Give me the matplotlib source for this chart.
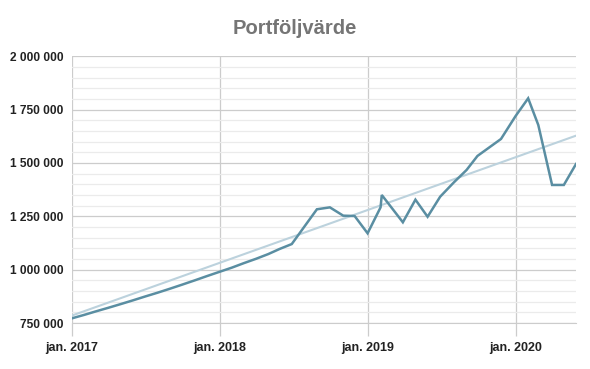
import matplotlib.pyplot as plt
import matplotlib.dates as mdates
import matplotlib.ticker as mticker
import numpy as np
import pandas as pd

plt.rcParams['font.family'] = ['Liberation Sans', 'DejaVu Sans']

# portföljens värde
dates = pd.to_datetime([
    '2017-01-01', '2017-01-31', '2017-02-28', '2017-03-31', '2017-04-30', '2017-05-31',
    '2017-06-30', '2017-07-31', '2017-08-31', '2017-09-30', '2017-10-31', '2017-11-30',
    '2017-12-31', '2018-01-31', '2018-02-28', '2018-03-31', '2018-04-30', '2018-05-28',
    '2018-06-27', '2018-08-28', '2018-09-29', '2018-11-01', '2018-11-29', '2018-12-31',
    '2019-02-01', '2019-02-04', '2019-03-28', '2019-04-28', '2019-05-28', '2019-06-28',
    '2019-08-01', '2019-09-01', '2019-09-28', '2019-11-25', '2019-12-31', '2020-01-31',
    '2020-02-25', '2020-03-30', '2020-04-28', '2020-05-28'])
values = [
    772000, 788000, 804000, 821000, 838000, 856000,
    874000, 892000, 911000, 930000, 950000, 970000,
    990000, 1010000, 1030000, 1051000, 1073000, 1097000,
    1120000, 1283000, 1292000, 1253000, 1251500, 1170500,
    1292000, 1350000, 1222000, 1328000, 1248000, 1342000,
    1409500, 1467000, 1533000, 1612500, 1720000, 1803000,
    1678000, 1397000, 1397000, 1495000]

# trendlinje
trend_dates = pd.to_datetime(['2017-01-01', '2020-05-28'])
trend_values = [785000, 1628000]

year_ticks = pd.to_datetime(['2017-01-01', '2018-01-01', '2019-01-01', '2020-01-01'])
year_labels = ['jan. 2017', 'jan. 2018', 'jan. 2019', 'jan. 2020']

fig = plt.figure(figsize=(5.9, 3.69), dpi=100)
ax = fig.add_axes([72/590, 1-323/369, (576-72)/590, (323-56.3)/369])

ax.plot(trend_dates, trend_values, color='#bcd2dd', lw=1.5, zorder=3)
ax.plot(dates, values, color='#5a8ea2', lw=1.8, zorder=4, solid_joinstyle='miter')

ax.set_ylim(750000, 2000000)
ax.set_xlim(dates[0], dates[-1])

ax.yaxis.set_major_locator(mticker.MultipleLocator(250000))
ax.yaxis.set_minor_locator(mticker.MultipleLocator(50000))
ax.yaxis.set_major_formatter(mticker.FuncFormatter(lambda v, p: f'{int(v):,}'.replace(',', ' ')))
ax.set_xticks(mdates.date2num(year_ticks))
ax.set_xticklabels(year_labels)

ax.grid(axis='y', which='major', color='#cccccc', lw=0.9)
ax.grid(axis='y', which='minor', color='#ebebeb', lw=0.9)
ax.grid(axis='x', which='major', color='#cccccc', lw=0.9)
ax.set_axisbelow(True)

for s in ['top', 'right', 'left']:
    ax.spines[s].set_visible(False)
ax.spines['bottom'].set_color('#cccccc')

ax.tick_params(axis='y', which='both', length=0, pad=6, labelsize=8.6, labelcolor='#222222')
ax.tick_params(axis='x', length=9, width=0.9, color='#cccccc', pad=5, labelsize=9, labelcolor='#222222')
for lab in ax.get_xticklabels() + ax.get_yticklabels():
    lab.set_fontweight('bold')

fig.text(0.5, 1-28/369, 'Portföljvärde', ha='center', va='center', fontsize=14.5,
         fontweight='bold', color='#757575')

fig.savefig('out.png', dpi=100)
